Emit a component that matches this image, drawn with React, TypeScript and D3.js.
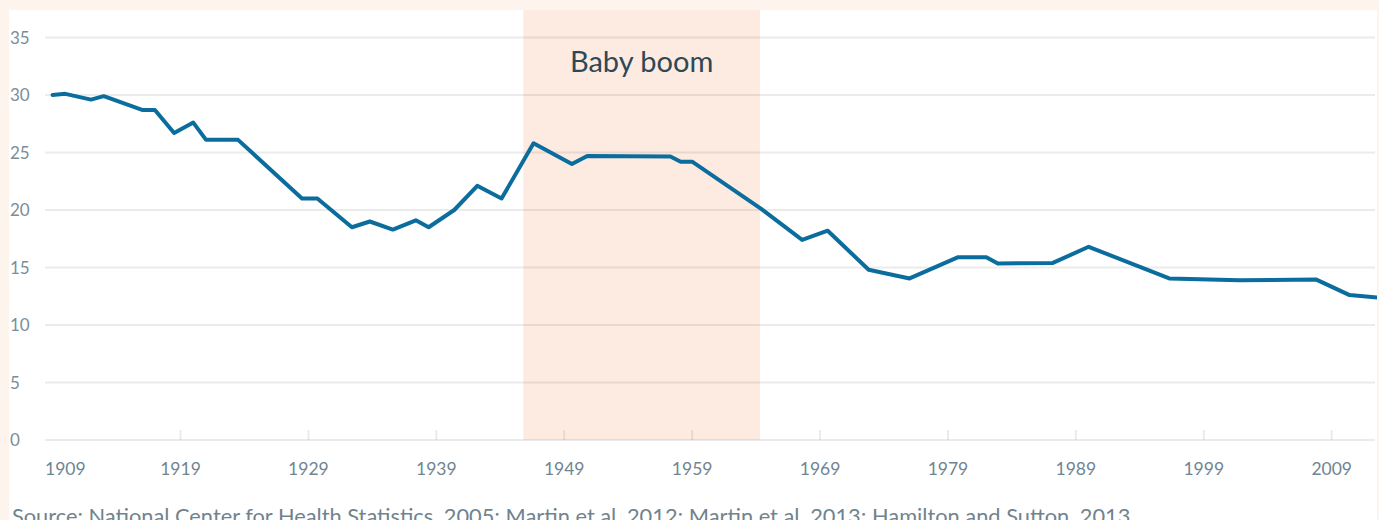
import React from "react";
import * as d3 from "d3";

const years = [1909, 1910, 1912, 1913, 1916, 1917, 1918.5, 1920, 1921, 1923.5, 1928.5, 1929.7, 1932.4, 1933.8, 1935.6, 1937.4, 1938.4, 1940.4, 1942.2, 1944.1, 1946.6, 1949.6, 1950.8, 1957.3, 1958.1, 1959, 1964.4, 1967.6, 1969.6, 1972.8, 1976, 1979.8, 1982, 1982.9, 1987.2, 1990, 1996.3, 2001.8, 2007.8, 2010.4, 2013];
const rates = [30.0, 30.1, 29.6, 29.9, 28.7, 28.7, 26.7, 27.6, 26.1, 26.1, 21.0, 21.0, 18.5, 19.0, 18.3, 19.1, 18.5, 20.0, 22.1, 21.0, 25.8, 24.0, 24.7, 24.65, 24.2, 24.2, 20.1, 17.4, 18.2, 14.8, 14.05, 15.9, 15.9, 15.35, 15.4, 16.8, 14.05, 13.9, 13.95, 12.6, 12.35];
const yTicks = [0, 5, 10, 15, 20, 25, 30, 35];
const xTickYears = [1919, 1929, 1939, 1949, 1959, 1969, 1979, 1989, 1999, 2009];
const xLabelYears = [1909, 1919, 1929, 1939, 1949, 1959, 1969, 1979, 1989, 1999, 2009];
const boomStart = 1945.8;
const boomEnd = 1964.3;
const boomLabel = "Baby boom";
const sourceText = "Source: National Center for Health Statistics, 2005; Martin et al. 2012; Martin et al. 2013; Hamilton and Sutton, 2013";

const W = 1379;
const H = 520;
const panel = { x: 9, y: 10, right: 1377 };
const font = "Lato, 'Open Sans', sans-serif";

export default function App() {
  const x = d3.scaleLinear().domain([1919, 2009]).range([180.5, 1331.7]);
  const y = d3.scaleLinear().domain([0, 35]).range([440, 37.5]);
  const pts = years.map((yr, i) => [yr, rates[i]] as [number, number]);
  const line = d3
    .line<[number, number]>()
    .x((d) => x(d[0]))
    .y((d) => y(d[1]))
    .curve(d3.curveLinear);

  return (
    <div style={{ position: "absolute", left: 0, top: 0 }}>
      <svg width={W} height={H} style={{ display: "block" }} fontFamily={font}>
        <defs>
          <clipPath id="plotclip">
            <rect x={panel.x} y={panel.y} width={panel.right - panel.x} height={H} />
          </clipPath>
        </defs>
        <rect x={0} y={0} width={W} height={H} fill="#fdf4ee" />
        <rect x={panel.x} y={panel.y} width={panel.right - panel.x} height={H - panel.y} fill="#ffffff" />
        <rect
          x={x(boomStart)}
          y={panel.y}
          width={x(boomEnd) - x(boomStart)}
          height={y(0) - panel.y}
          fill="#fdebe1"
        />
        {yTicks.map((t) => (
          <g key={t}>
            <line x1={45} x2={1375} y1={y(t)} y2={y(t)} stroke="rgba(0,0,0,0.08)" strokeWidth={2} />
            <text x={10} y={y(t) + 6} fontSize={17} fill="#7b8d98">
              {t}
            </text>
          </g>
        ))}
        {xTickYears.map((t) => (
          <line key={t} x1={x(t)} x2={x(t)} y1={430} y2={440} stroke="rgba(0,0,0,0.08)" strokeWidth={2} />
        ))}
        {xLabelYears.map((t, i) => (
          <text
            key={t}
            x={i === 0 ? 45 : x(t)}
            y={475}
            fontSize={17.5}
            fill="#6f8593"
            textAnchor={i === 0 ? "start" : "middle"}
          >
            {t}
          </text>
        ))}
        <text
          x={(x(boomStart) + x(boomEnd)) / 2}
          y={72}
          fontSize={29}
          fill="#2d4858"
          textAnchor="middle"
        >
          {boomLabel}
        </text>
        <g clipPath="url(#plotclip)">
          <path
            d={line(pts) || ""}
            fill="none"
            stroke="#0b6d9d"
            strokeWidth={4}
            strokeLinejoin="round"
            strokeLinecap="round"
          />
        </g>
        <text x={12} y={524} fontSize={21.8} fill="#71838e">
          {sourceText}
        </text>
      </svg>
    </div>
  );
}
